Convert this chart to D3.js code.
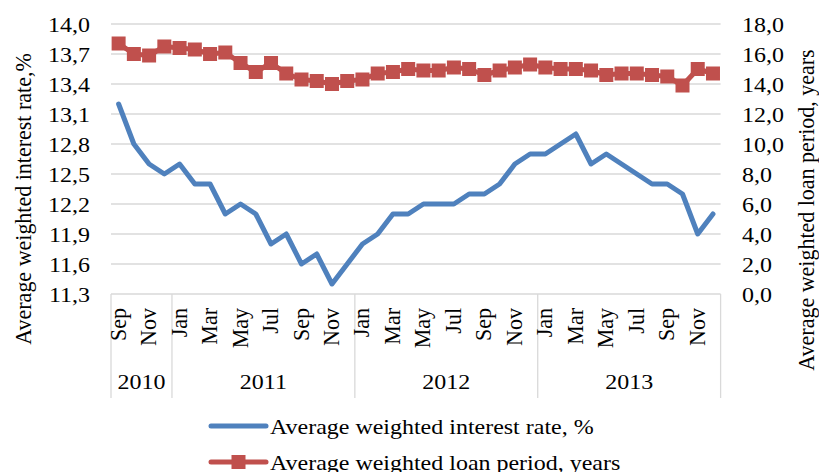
<!DOCTYPE html>
<html><head><meta charset="utf-8">
<script src="https://cdn.jsdelivr.net/npm/d3@7"></script>
<style>
html,body{margin:0;padding:0;background:#fff;}
text{font-family:"Liberation Serif","Times New Roman",serif;fill:#000;}
</style></head>
<body>
<svg id="chart" width="819" height="472"></svg>
<script>
const monthNames = ["Sep","Oct","Nov","Dec",
  "Jan","Feb","Mar","Apr","May","Jun","Jul","Aug","Sep","Oct","Nov","Dec",
  "Jan","Feb","Mar","Apr","May","Jun","Jul","Aug","Sep","Oct","Nov","Dec",
  "Jan","Feb","Mar","Apr","May","Jun","Jul","Aug","Sep","Oct","Nov","Dec"];
const years = ["2010","2011","2012","2013"];
const yearStart = [0,4,16,28,40];
const rate = [13.2,12.8,12.6,12.5,12.6,12.4,12.4,12.1,12.2,12.1,
  11.8,11.9,11.6,11.7,11.4,11.6,11.8,11.9,12.1,12.1,
  12.2,12.2,12.2,12.3,12.3,12.4,12.6,12.7,12.7,12.8,
  12.9,12.6,12.7,12.6,12.5,12.4,12.4,12.3,11.9,12.1];
const period = [16.7,16.0,15.9,16.5,16.4,16.3,16.0,16.1,15.4,14.8,
  15.4,14.7,14.3,14.2,14.0,14.2,14.3,14.7,14.8,15.0,
  14.9,14.9,15.1,15.0,14.6,14.9,15.1,15.3,15.1,15.0,
  15.0,14.9,14.6,14.7,14.7,14.6,14.5,13.9,15.0,14.7];
const leftTicks = [11.3,11.6,11.9,12.2,12.5,12.8,13.1,13.4,13.7,14.0];
const rightTicks = [0,2,4,6,8,10,12,14,16,18];
const seriesNames = ["Average weighted interest rate, %","Average weighted loan period, years"];
const leftTitle = "Average weighted interest rate,%";
const rightTitle = "Average weighted loan period, years";

const blue = "#4F81BD", red = "#C0504D", grid = "#d9d9d9";
const FS = 22, SX = 1.09;
const svg = d3.select("#chart");
const L = 111, R = 720.6, T = 24, B = 294;
const idx = d3.range(monthNames.length);
const x = d3.scaleBand().domain(idx).range([L, R]).padding(0);
const yL = d3.scaleLinear().domain([11.3, 14.0]).range([B, T]);
const yR = d3.scaleLinear().domain([0, 18]).range([B, T]);
const cx = i => x(i) + x.bandwidth() / 2;
const xb = k => yearStart[k] < idx.length ? x(yearStart[k]) : R;
const fmt = v => d3.format(".1f")(v).replace(".", ",");
const tf = (px, py, rot) => `translate(${px},${py}) scale(${SX},1)` + (rot ? ` rotate(${rot})` : "");

// gridlines
svg.append("g").selectAll("line").data(leftTicks).join("line")
  .attr("x1", L).attr("x2", R)
  .attr("y1", d => yL(d)).attr("y2", d => yL(d))
  .attr("stroke", grid).attr("stroke-width", 1.3);

// left tick labels
svg.append("g").selectAll("text").data(leftTicks).join("text")
  .attr("transform", d => tf(90, yL(d))).attr("dy", "0.35em")
  .attr("text-anchor", "end").attr("font-size", FS).text(fmt);
// right tick labels
svg.append("g").selectAll("text").data(rightTicks).join("text")
  .attr("transform", d => tf(742, yR(d))).attr("dy", "0.35em")
  .attr("text-anchor", "start").attr("font-size", FS).text(fmt);

// category separators
svg.append("g").selectAll("line").data(yearStart).join("line")
  .attr("x1", (d, k) => xb(k)).attr("x2", (d, k) => xb(k))
  .attr("y1", B).attr("y2", 398)
  .attr("stroke", grid).attr("stroke-width", 1.3);

// month labels (every other)
svg.append("g").selectAll("text").data(idx.filter(i => i % 2 === 0)).join("text")
  .attr("transform", i => tf(cx(i) + 7, 308, -90))
  .attr("text-anchor", "end").attr("font-size", FS).text(i => monthNames[i]);

// year labels
svg.append("g").selectAll("text").data(years).join("text")
  .attr("transform", (d, k) => tf((xb(k) + xb(k + 1)) / 2, 389))
  .attr("text-anchor", "middle").attr("font-size", FS).text(d => d);

// lines
const lineL = d3.line().x((d, i) => cx(i)).y(d => yL(d));
const lineR = d3.line().x((d, i) => cx(i)).y(d => yR(d));
svg.append("path").datum(period).attr("d", lineR)
  .attr("fill", "none").attr("stroke", red).attr("stroke-width", 5).attr("stroke-linejoin", "round");
svg.append("g").selectAll("rect").data(period).join("rect")
  .attr("x", (d, i) => cx(i) - 7).attr("y", d => yR(d) - 7)
  .attr("width", 14).attr("height", 14).attr("fill", red);
svg.append("path").datum(rate).attr("d", lineL)
  .attr("fill", "none").attr("stroke", blue).attr("stroke-width", 5)
  .attr("stroke-linejoin", "round").attr("stroke-linecap", "round");

// axis titles
svg.append("text").attr("transform", tf(31, 199, -90))
  .attr("text-anchor", "middle").attr("font-size", FS).text(leftTitle);
svg.append("text").attr("transform", tf(814, 210, -90))
  .attr("text-anchor", "middle").attr("font-size", FS).text(rightTitle);

// legend
const lg = svg.append("g");
const legY = [426, 462];
const legCol = [blue, red];
lg.selectAll("line").data(seriesNames).join("line")
  .attr("x1", 211).attr("x2", 266)
  .attr("y1", (d, k) => legY[k]).attr("y2", (d, k) => legY[k])
  .attr("stroke", (d, k) => legCol[k]).attr("stroke-width", 5).attr("stroke-linecap", "round");
lg.append("rect").attr("x", 238.5 - 7).attr("y", legY[1] - 7).attr("width", 14).attr("height", 14).attr("fill", red);
lg.selectAll("text").data(seriesNames).join("text")
  .attr("transform", (d, k) => tf(270, legY[k])).attr("dy", "0.35em")
  .attr("font-size", FS).text(d => d);
</script>
</body></html>
